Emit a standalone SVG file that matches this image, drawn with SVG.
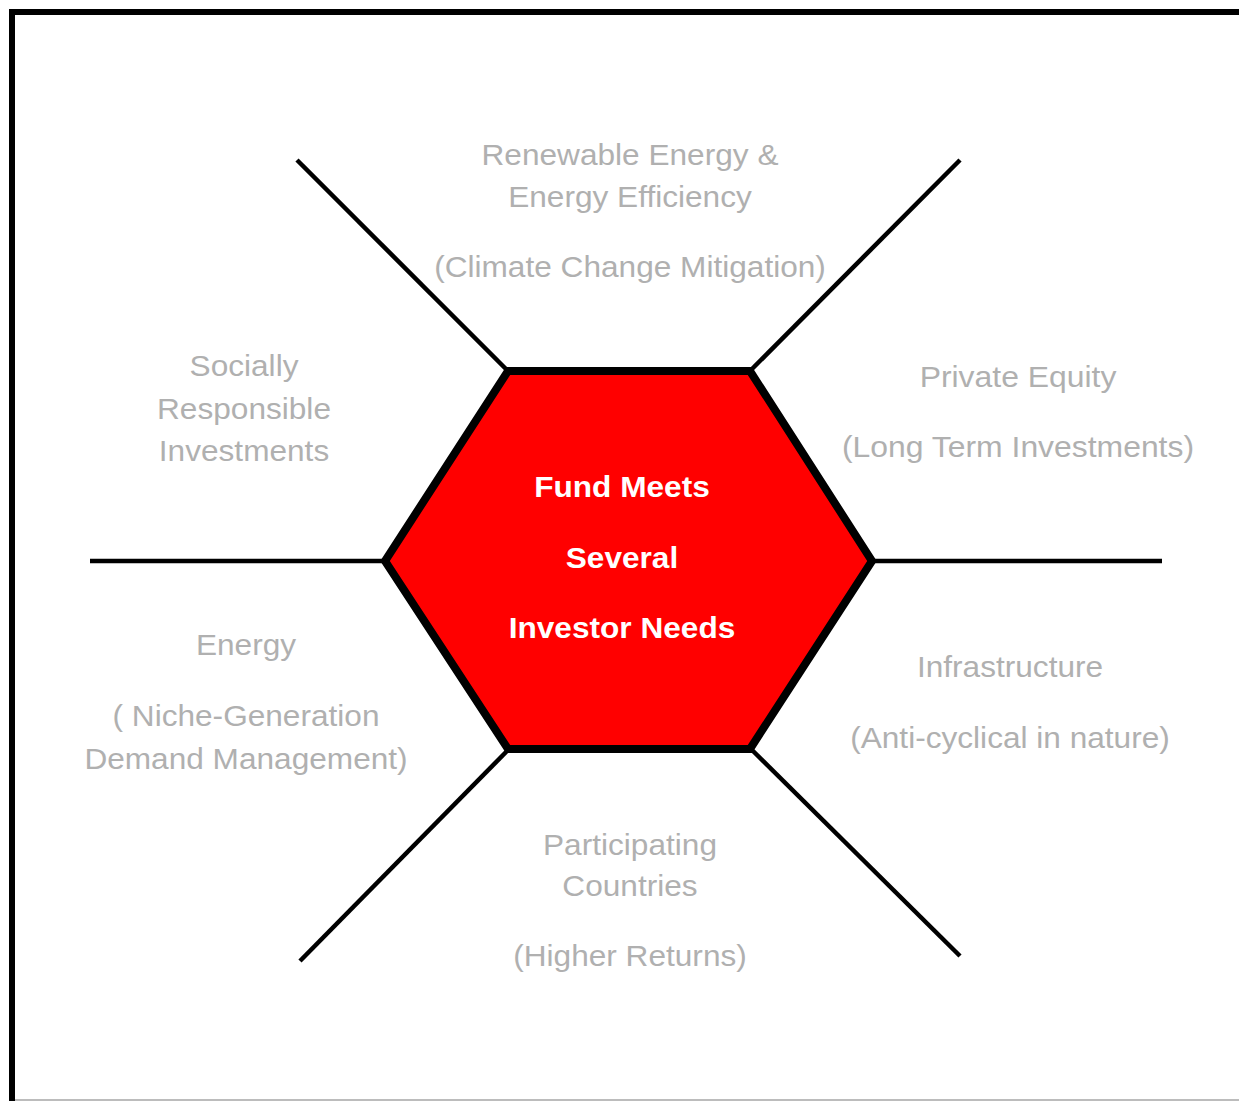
<svg xmlns="http://www.w3.org/2000/svg" width="1239" height="1101" viewBox="0 0 1239 1101">
  <style>
    .frame { fill: none; stroke: #000; stroke-width: 6; }
    .conn { stroke: #000; stroke-width: 4.5; fill: none; }
    .hub { fill: #ff0000; stroke: #000; stroke-width: 8; stroke-linejoin: miter; }
    .lbl { font-family: "Liberation Sans", Arial, sans-serif; font-size: 29px; fill: #b0b0b0; text-anchor: middle; }
    .hubtxt { font-family: "Liberation Sans", Arial, sans-serif; font-size: 29px; font-weight: bold; fill: #fff; text-anchor: middle; }
  </style>
  <rect width="1239" height="1101" fill="#fff"/>
  <!-- page frame -->
  <polyline class="frame" points="12,1101 12,12 1239,12"/>
  <line x1="15" y1="1100" x2="1239" y2="1100" stroke="#a6a6a6" stroke-width="1.5"/>

  <!-- spokes -->
  <g id="connectors">
    <line class="conn" x1="297" y1="160" x2="508" y2="371"/>
    <line class="conn" x1="960" y1="160" x2="750" y2="371"/>
    <line class="conn" x1="90" y1="561" x2="385" y2="561"/>
    <line class="conn" x1="872" y1="561" x2="1162" y2="561"/>
    <line class="conn" x1="300" y1="961" x2="508" y2="750"/>
    <line class="conn" x1="960" y1="956" x2="752" y2="750"/>
  </g>

  <!-- central hexagon -->
  <g id="hub">
    <polygon class="hub" points="508,371 750,371 872,561 750,749 508,749 385,561"/>
    <g transform="translate(622 0) scale(1.09 1)">
      <text class="hubtxt" x="0" y="497">Fund Meets</text>
      <text class="hubtxt" x="0" y="568">Several</text>
      <text class="hubtxt" x="0" y="638">Investor Needs</text>
    </g>
  </g>

  <g id="renewable" transform="translate(630 0) scale(1.09 1)">
    <text class="lbl" x="0" y="165">Renewable Energy &amp;</text>
    <text class="lbl" x="0" y="207">Energy Efficiency</text>
    <text class="lbl" x="0" y="277">(Climate Change Mitigation)</text>
  </g>

  <g id="sri" transform="translate(244 0) scale(1.09 1)">
    <text class="lbl" x="0" y="376">Socially</text>
    <text class="lbl" x="0" y="419">Responsible</text>
    <text class="lbl" x="0" y="461">Investments</text>
  </g>

  <g id="private-equity" transform="translate(1018 0) scale(1.1 1)">
    <text class="lbl" x="0" y="387">Private Equity</text>
    <text class="lbl" x="0" y="457">(Long Term Investments)</text>
  </g>

  <g id="energy" transform="translate(246 0) scale(1.09 1)">
    <text class="lbl" x="0" y="655">Energy</text>
    <text class="lbl" x="0" y="726">( Niche-Generation</text>
    <text class="lbl" x="0" y="769">Demand Management)</text>
  </g>

  <g id="infrastructure" transform="translate(1010 0) scale(1.09 1)">
    <text class="lbl" x="0" y="677">Infrastructure</text>
    <text class="lbl" x="0" y="748">(Anti-cyclical in nature)</text>
  </g>

  <g id="countries" transform="translate(630 0) scale(1.09 1)">
    <text class="lbl" x="0" y="855">Participating</text>
    <text class="lbl" x="0" y="896">Countries</text>
    <text class="lbl" x="0" y="966">(Higher Returns)</text>
  </g>
</svg>
